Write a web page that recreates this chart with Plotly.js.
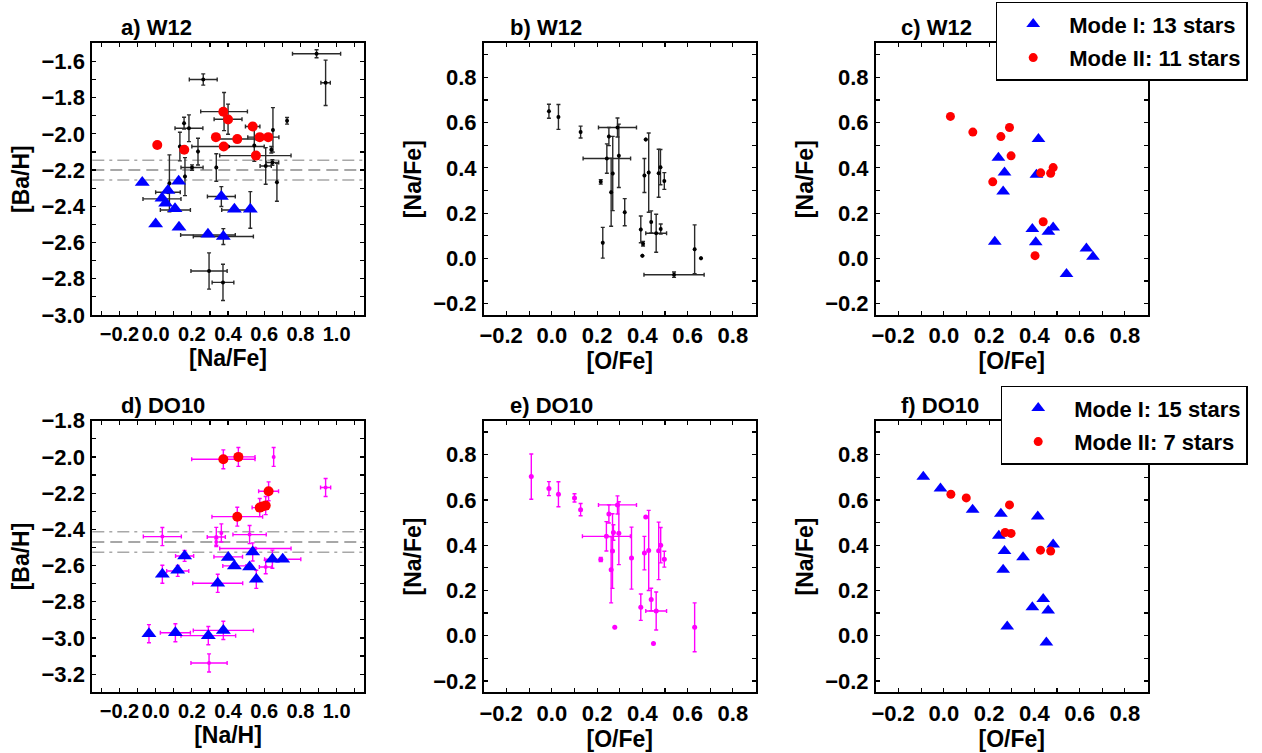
<!DOCTYPE html>
<html>
<head>
<meta charset="utf-8">
<script src="https://cdn.plot.ly/plotly-3.0.1.min.js"></script>
<style>html,body{margin:0;padding:0;background:#fff;}#chart{width:1262px;height:753px;}</style>
</head>
<body>
<div id="chart"></div>
<script>
// ---------- Panel a: W12 [Ba/H] vs [Na/Fe] (all stars with errors) ----------
const w12AllNaFe = [0.889, 0.939, 0.263, 0.378, 0.400, 0.157, 0.184, 0.134, 0.162, 0.234, 0.201, 0.335, 0.400, 0.545, 0.648, 0.726, 0.639, 0.608, 0.645, 0.670, 0.551, 0.076, 0.035, 0.068, 0.109, 0.289, 0.374, 0.363, 0.435, 0.523, 0.295, 0.372, 0.595, 0.536, 0.446];
const w12AllBaH = [-1.558, -1.718, -1.700, -1.877, -1.919, -1.941, -1.969, -2.070, -2.236, -2.098, -2.186, -2.186, -2.070, -2.064, -1.978, -1.928, -2.088, -2.177, -2.158, -2.267, -2.120, -2.273, -2.359, -2.322, -2.420, -2.558, -2.567, -2.346, -2.420, -2.420, -2.757, -2.820, -2.018, -1.959, -2.028];
const w12AllNaFeErr = [0.133, 0.026, 0.077, 0.129, 0.077, 0, 0.077, 0, 0, 0, 0.061, 0, 0.200, 0, 0, 0, 0, 0.031, 0.035, 0, 0.197, 0, 0.105, 0.068, 0.083, 0.151, 0.166, 0.077, 0.070, 0, 0.100, 0.060, 0.086, 0.040, 0.110];
const w12AllBaHErr = [0.022, 0.125, 0.031, 0.105, 0.083, 0.033, 0.074, 0.079, 0.105, 0.074, 0.015, 0.076, 0, 0.088, 0.123, 0.018, 0.018, 0.101, 0.015, 0.105, 0, 0.157, 0, 0, 0, 0, 0.044, 0.055, 0, 0.101, 0.100, 0.100, 0, 0, 0];
const w12ModeINaFe = [-0.074, 0.000, 0.035, 0.068, 0.055, 0.107, 0.127, 0.129, 0.289, 0.363, 0.374, 0.435, 0.523];
const w12ModeIBaH = [-2.269, -2.497, -2.355, -2.313, -2.383, -2.414, -2.261, -2.516, -2.554, -2.346, -2.567, -2.416, -2.416];
const w12ModeIINaFe = [0.009, 0.158, 0.333, 0.374, 0.400, 0.376, 0.451, 0.536, 0.575, 0.622, 0.554];
const w12ModeIIBaH = [-2.061, -2.088, -2.018, -1.878, -1.921, -2.070, -2.029, -1.959, -2.018, -2.018, -2.120];
const w12BaLevels = [-2.145, -2.200, -2.255];   // dash-dot, dashed, dash-dot

// ---------- Panel b: W12 [Na/Fe] vs [O/Fe] ----------
const w12OFe = [-0.013, 0.029, 0.127, 0.216, 0.225, 0.243, 0.252, 0.262, 0.269, 0.290, 0.296, 0.322, 0.393, 0.403, 0.400, 0.409, 0.415, 0.428, 0.439, 0.461, 0.472, 0.480, 0.481, 0.497, 0.540, 0.631, 0.659];
const w12NaFe = [0.650, 0.625, 0.558, 0.338, 0.069, 0.441, 0.538, 0.292, 0.375, 0.578, 0.453, 0.204, 0.128, 0.065, 0.012, 0.366, 0.525, 0.379, 0.161, 0.111, 0.376, 0.403, 0.130, 0.342, -0.072, 0.040, 0.001];
const w12OFeErr = [0, 0, 0, 0, 0, 0.105, 0, 0, 0, 0.084, 0, 0, 0, 0, 0, 0, 0, 0, 0, 0.046, 0, 0, 0, 0, 0.133, 0, 0];
const w12NaFeErr = [0.031, 0.055, 0.026, 0.010, 0.068, 0.065, 0.040, 0.150, 0.164, 0.042, 0.140, 0.060, 0.059, 0.010, 0, 0.075, 0, 0.175, 0.049, 0.084, 0.106, 0.078, 0.022, 0.037, 0.012, 0.108, 0];

// ---------- Panel c: W12 modes in [Na/Fe] vs [O/Fe] ----------
const w12cModeIOFe = [0.241, 0.268, 0.262, 0.225, 0.418, 0.409, 0.391, 0.406, 0.462, 0.483, 0.542, 0.630, 0.659];
const w12cModeINaFe = [0.444, 0.379, 0.295, 0.074, 0.527, 0.369, 0.130, 0.071, 0.118, 0.136, -0.069, 0.044, 0.007];
const w12cModeIIOFe = [0.029, 0.128, 0.252, 0.290, 0.297, 0.216, 0.428, 0.472, 0.483, 0.439, 0.403];
const w12cModeIINaFe = [0.627, 0.558, 0.538, 0.578, 0.453, 0.338, 0.378, 0.376, 0.401, 0.162, 0.012];

// ---------- Panel d: DO10 [Ba/H] vs [Na/H] ----------
const do10AllNaH = [0.652, 0.939, 0.374, 0.457, 0.624, 0.575, 0.608, 0.451, 0.037, 0.335, 0.363, 0.335, 0.519, 0.551, 0.160, 0.122, 0.401, 0.435, 0.343, 0.608, 0.702, 0.109, 0.291, 0.374, 0.295, 0.037, 0.536, 0.556, -0.037, 0.645];
const do10AllBaH = [-2.000, -2.169, -2.013, -2.000, -2.190, -2.280, -2.269, -2.330, -2.440, -2.442, -2.420, -2.470, -2.429, -2.506, -2.547, -2.630, -2.552, -2.602, -2.698, -2.608, -2.565, -2.971, -2.987, -2.958, -3.138, -2.648, -2.525, -2.676, -2.976, -2.565];
const do10AllNaHErr = [0, 0.028, 0.175, 0.092, 0.055, 0.042, 0, 0.140, 0.105, 0.050, 0, 0, 0.092, 0.197, 0.050, 0.061, 0.079, 0.064, 0.138, 0.035, 0.100, 0.083, 0.151, 0.166, 0.100, 0, 0, 0, 0, 0];
const do10AllBaHErr = [0.052, 0.050, 0.052, 0.052, 0.052, 0.050, 0.050, 0.052, 0.050, 0.053, 0.050, 0.018, 0.050, 0, 0.030, 0.030, 0, 0, 0.050, 0.037, 0, 0.050, 0.050, 0.050, 0.050, 0.050, 0.050, 0.050, 0.050, 0.050];
const do10ModeINaH = [-0.037, 0.037, 0.109, 0.122, 0.160, 0.291, 0.343, 0.374, 0.401, 0.435, 0.519, 0.536, 0.556, 0.645, 0.702];
const do10ModeIBaH = [-2.976, -2.648, -2.971, -2.626, -2.547, -2.987, -2.698, -2.958, -2.556, -2.602, -2.608, -2.525, -2.676, -2.565, -2.565];
const do10ModeIINaH = [0.374, 0.457, 0.624, 0.575, 0.608, 0.590, 0.451];
const do10ModeIIBaH = [-2.013, -2.000, -2.190, -2.280, -2.269, -2.274, -2.330];
const do10BaLevels = [-2.414, -2.470, -2.527];

// ---------- Panel e: DO10 [Na/Fe] vs [O/Fe] ----------
const do10OFe = [-0.091, -0.013, 0.029, 0.100, 0.127, 0.216, 0.241, 0.252, 0.262, 0.268, 0.272, 0.278, 0.290, 0.296, 0.352, 0.393, 0.409, 0.415, 0.428, 0.439, 0.449, 0.461, 0.472, 0.481, 0.497, 0.631];
const do10NaFe = [0.703, 0.650, 0.625, 0.609, 0.557, 0.337, 0.439, 0.538, 0.291, 0.374, 0.456, 0.037, 0.578, 0.453, 0.343, 0.126, 0.365, 0.524, 0.377, 0.160, -0.034, 0.109, 0.375, 0.400, 0.338, 0.037];
const do10OFeErr = [0, 0, 0, 0, 0, 0, 0.106, 0, 0, 0, 0, 0, 0.084, 0, 0, 0, 0, 0, 0, 0, 0, 0.046, 0, 0, 0, 0];
const do10NaFeErr = [0.100, 0.031, 0.055, 0.018, 0.027, 0.009, 0.065, 0.040, 0.146, 0.165, 0.034, 0, 0.040, 0.139, 0.137, 0.058, 0.074, 0, 0.177, 0.050, 0, 0.084, 0.127, 0.078, 0.035, 0.108];

// ---------- Panel f: DO10 modes ----------
const do10fModeIOFe = [-0.091, -0.015, 0.127, 0.252, 0.243, 0.268, 0.262, 0.280, 0.350, 0.415, 0.483, 0.391, 0.439, 0.461, 0.453];
const do10fModeINaFe = [0.702, 0.650, 0.557, 0.539, 0.442, 0.374, 0.292, 0.041, 0.347, 0.527, 0.403, 0.126, 0.162, 0.111, -0.030];
const do10fModeIIOFe = [0.031, 0.099, 0.290, 0.271, 0.297, 0.427, 0.472];
const do10fModeIINaFe = [0.625, 0.609, 0.578, 0.456, 0.452, 0.378, 0.374];

// ---------- tick labels & texts ----------
const naTickVals = [-0.2, 0.0, 0.2, 0.4, 0.6, 0.8, 1.0];
const naTickText = ['\u22120.2', '0.0', '0.2', '0.4', '0.6', '0.8', '1.0'];
const oTickVals = [-0.2, 0.0, 0.2, 0.4, 0.6, 0.8];
const oTickText = ['\u22120.2\u2002', '0.0', '0.2', '0.4', '0.6', '0.8'];
const panelTitles = ['a) W12', 'b) W12', 'c) W12', 'd) DO10', 'e) DO10', 'f) DO10'];
const legendTop = ['Mode I: 13 stars', 'Mode II: 11 stars'];
const legendBottom = ['Mode I: 15 stars', 'Mode II: 7 stars'];

// ---------- styling ----------
const FONT = 'Liberation Sans, Arial, Helvetica, sans-serif';
const W = 1262, H = 753;
const BLUE = '#0000ff', RED = '#ff0000', MAG = '#ff00ff';

function errTrace(x, y, ex, ey, xa, ya, col, barcol, msize) {
  return {
    type: 'scatter', mode: 'markers', x: x, y: y, xaxis: xa, yaxis: ya,
    marker: {color: col, size: msize, symbol: 'circle'},
    error_x: {type: 'data', array: ex, visible: true, color: barcol, thickness: 1.4, width: 2},
    error_y: {type: 'data', array: ey, visible: true, color: barcol, thickness: 1.4, width: 2},
    showlegend: false, hoverinfo: 'x+y'
  };
}
function modeTrace(x, y, xa, ya, isI, size, legendName, legendId) {
  const t = {
    type: 'scatter', mode: 'markers', x: x, y: y, xaxis: xa, yaxis: ya,
    marker: {color: isI ? BLUE : RED, size: size, symbol: isI ? 'triangle-up' : 'circle', line: {width: 0}},
    showlegend: !!legendName, name: legendName || '', hoverinfo: 'x+y'
  };
  if (legendName) { t.legend = legendId; t.legendgroup = legendId + (isI ? 'I' : 'II'); }
  return t;
}

const traces = [
  errTrace(w12AllNaFe, w12AllBaH, w12AllNaFeErr, w12AllBaHErr, 'x', 'y', '#000', '#2a2a2a', 4),
  modeTrace(w12ModeINaFe, w12ModeIBaH, 'x', 'y', true, 13),
  modeTrace(w12ModeIINaFe, w12ModeIIBaH, 'x', 'y', false, 10),
  errTrace(w12OFe, w12NaFe, w12OFeErr, w12NaFeErr, 'x2', 'y2', '#000', '#2a2a2a', 4),
  modeTrace(w12cModeIOFe, w12cModeINaFe, 'x3', 'y3', true, 12, legendTop[0], 'legend'),
  modeTrace(w12cModeIIOFe, w12cModeIINaFe, 'x3', 'y3', false, 9, legendTop[1], 'legend'),
  errTrace(do10AllNaH, do10AllBaH, do10AllNaHErr, do10AllBaHErr, 'x4', 'y4', MAG, MAG, 4),
  modeTrace(do10ModeINaH, do10ModeIBaH, 'x4', 'y4', true, 13),
  modeTrace(do10ModeIINaH, do10ModeIIBaH, 'x4', 'y4', false, 10),
  errTrace(do10OFe, do10NaFe, do10OFeErr, do10NaFeErr, 'x5', 'y5', MAG, MAG, 5),
  modeTrace(do10fModeIOFe, do10fModeINaFe, 'x6', 'y6', true, 12, legendBottom[0], 'legend2'),
  modeTrace(do10fModeIIOFe, do10fModeIINaFe, 'x6', 'y6', false, 9, legendBottom[1], 'legend2')
];

const colsPx = [[92.3, 363.8], [484, 755.5], [876, 1147.5]];
const rowsPx = [[43.3, 315], [420.7, 692.3]];
const dom = (p) => [p[0] / W, p[1] / W];
const ydom = (p) => [1 - p[1] / H, 1 - p[0] / H];
const TF = {family: FONT, size: 22, color: '#000', weight: 'bold'};

function axisBase(extra) {
  return Object.assign({
    showline: true, linewidth: 2, linecolor: '#000', mirror: 'ticks',
    ticks: 'inside', ticklen: 4, tickwidth: 1.2, tickcolor: '#000',
    showgrid: false, zeroline: false, tickangle: 0, dtick: 0.2, tick0: 0, tickformat: '.1f',
    tickfont: TF,
    minor: {tickmode: 'linear', dtick: 0.1, tick0: 0, ticks: 'inside', ticklen: 4, tickwidth: 1.2, tickcolor: '#000', showgrid: false},
    fixedrange: true
  }, extra);
}
function xaxisDef(col, row, rng, anchor, title, vals, text, fsize) {
  return axisBase({domain: dom(colsPx[col]), range: rng, anchor: anchor, ticklabelstandoff: 0,
    tickmode: 'array', tickvals: vals, ticktext: text,
    tickfont: {family: FONT, size: fsize, color: '#000', weight: 'bold'},
    title: {text: title, font: {family: FONT, size: 23, color: '#000', weight: 'bold'}, standoff: fsize < 22 ? 3 : 1}});
}
function yaxisDef(row, rng, anchor, title) {
  return axisBase({domain: ydom(rowsPx[row]), range: rng, anchor: anchor, ticklabelstandoff: 1,
    title: {text: title, font: {family: FONT, size: 23, color: '#000', weight: 'bold'}, standoff: 5}});
}

const layout = {
  width: W, height: H, margin: {l: 0, r: 0, t: 0, b: 0, pad: 0},
  paper_bgcolor: '#fff', plot_bgcolor: '#fff',
  xaxis:  xaxisDef(0, 0, [-0.35, 1.15], 'y', '[Na/Fe]', naTickVals, naTickText, 20),
  yaxis:  yaxisDef(0, [-3.0, -1.5], 'x', '[Ba/H]'),
  xaxis2: xaxisDef(1, 0, [-0.3, 0.9], 'y2', '[O/Fe]', oTickVals, oTickText, 22),
  yaxis2: yaxisDef(0, [-0.25, 0.95], 'x2', '[Na/Fe]'),
  xaxis3: xaxisDef(2, 0, [-0.3, 0.9], 'y3', '[O/Fe]', oTickVals, oTickText, 22),
  yaxis3: yaxisDef(0, [-0.25, 0.95], 'x3', '[Na/Fe]'),
  xaxis4: xaxisDef(0, 1, [-0.35, 1.15], 'y4', '[Na/H]', naTickVals, naTickText, 20),
  yaxis4: yaxisDef(1, [-3.3, -1.8], 'x4', '[Ba/H]'),
  xaxis5: xaxisDef(1, 1, [-0.3, 0.9], 'y5', '[O/Fe]', oTickVals, oTickText, 22),
  yaxis5: yaxisDef(1, [-0.25, 0.95], 'x5', '[Na/Fe]'),
  xaxis6: xaxisDef(2, 1, [-0.3, 0.9], 'y6', '[O/Fe]', oTickVals, oTickText, 22),
  yaxis6: yaxisDef(1, [-0.25, 0.95], 'x6', '[Na/Fe]'),
  legend: {x: 995.7 / W, y: 1 - 1.7 / H, xanchor: 'left', yanchor: 'top', bgcolor: '#fff', bordercolor: '#000', borderwidth: 1.5,
           font: {family: FONT, size: 22, color: '#000', weight: 'bold'}, itemwidth: 62, tracegroupgap: 2, traceorder: 'grouped'},
  legend2: {x: 1000.7 / W, y: 1 - 385.7 / H, xanchor: 'left', yanchor: 'top', bgcolor: '#fff', bordercolor: '#000', borderwidth: 1.5,
           font: {family: FONT, size: 22, color: '#000', weight: 'bold'}, itemwidth: 62, tracegroupgap: 2, traceorder: 'grouped'},
  shapes: [],
  annotations: []
};

// reference [Ba/H] levels
[[w12BaLevels, 'x domain', 'y'], [do10BaLevels, 'x4 domain', 'y4']].forEach(function (g) {
  g[0].forEach(function (v, i) {
    layout.shapes.push({type: 'line', xref: g[1], yref: g[2], x0: 0, x1: 1, y0: v, y1: v, layer: 'below',
      line: {color: i === 1 ? '#8a8a8a' : '#a8a8a8', width: 1.5, dash: i === 1 ? '12px,6px' : '12px,5px,3px,5px'}});
  });
});

// panel titles
const titleX = [119, 508, 899];
panelTitles.forEach(function (t, i) {
  const c = i % 3, r = Math.floor(i / 3);
  layout.annotations.push({text: t, xref: 'paper', yref: 'paper', x: titleX[c] / W, y: 1 - (r === 0 ? 27.7 : 405) / H,
    xanchor: 'left', yanchor: 'middle', showarrow: false,
    font: {family: FONT, size: 22, color: '#000', weight: 'bold'}});
});

Plotly.newPlot('chart', traces, layout, {displayModeBar: false, staticPlot: true});
</script>
</body>
</html>
